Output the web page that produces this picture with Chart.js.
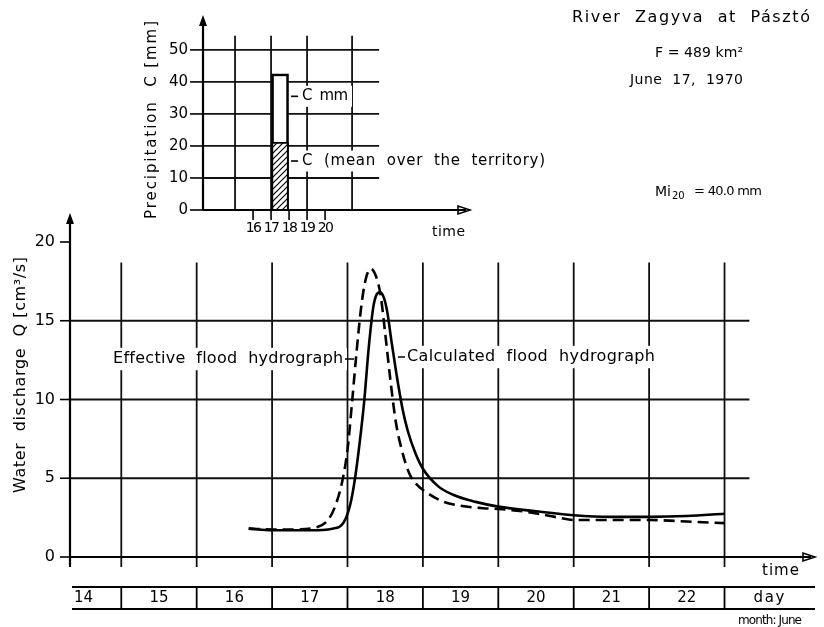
<!DOCTYPE html>
<html>
<head>
<meta charset="utf-8">
<script src="https://cdn.jsdelivr.net/npm/chart.js@4.4.1/dist/chart.umd.min.js"></script>
<style>
  html, body { margin:0; padding:0; background:#fff; }
  #wrap { position:relative; width:824px; height:627px; }
  #wrap canvas { position:absolute; left:0; top:0; }
</style>
</head>
<body>
<div id="wrap">
  <canvas id="main" width="824" height="627"></canvas>
  <canvas id="inset" width="824" height="250"></canvas>
</div>
<script>
// hydrograph: day of June -> discharge Q
const effDays = [16.69, 17.0, 17.3, 17.6, 17.75, 17.85, 17.93, 18.0, 18.06, 18.12, 18.18, 18.24, 18.31, 18.38, 18.44, 18.5, 18.57, 18.64, 18.72, 18.82, 18.92, 19.05, 19.25, 19.5, 19.8, 20.0, 20.4, 20.8, 21.0, 21.5, 22.0, 22.5, 23.0];
const effQ    = [1.8, 1.75, 1.75, 1.9, 2.4, 3.4, 4.8, 6.8, 9.8, 13.0, 15.8, 17.6, 18.3, 17.8, 16.6, 14.2, 11.2, 8.6, 6.8, 5.3, 4.6, 4.1, 3.55, 3.25, 3.1, 3.05, 2.85, 2.5, 2.35, 2.35, 2.35, 2.25, 2.15];
const calcDays = [16.69, 17.0, 17.5, 17.8, 17.95, 18.04, 18.1, 18.16, 18.22, 18.28, 18.34, 18.38, 18.43, 18.48, 18.53, 18.58, 18.65, 18.73, 18.8, 18.9, 19.0, 19.2, 19.4, 19.7, 20.0, 20.5, 21.0, 21.5, 22.0, 22.5, 23.0];
const calcQ    = [1.8, 1.7, 1.7, 1.8, 2.2, 3.4, 5.0, 7.2, 9.8, 13.2, 15.8, 16.6, 16.8, 16.5, 15.5, 13.8, 11.6, 9.4, 8.0, 6.6, 5.6, 4.5, 3.95, 3.5, 3.2, 2.9, 2.65, 2.55, 2.55, 2.6, 2.75];
const qTicks = [0, 5, 10, 15, 20];
const qGrid = [5, 10, 15];
const dayLines = [15, 16, 17, 18, 19, 20, 21, 22, 23];
const dayLabels = ['14', '15', '16', '17', '18', '19', '20', '21', '22'];

// precipitation inset: hour -> mm
const hourTicks = [16, 17, 18, 19, 20];
const hourGrid = [15, 17, 19, 21.5];
const precipTicks = [0, 10, 20, 30, 40, 50];
const precipHours = [17.5];
const precipTotal = [42.5];
const precipMean = [21.2];

const FONT = '"DejaVu Sans", sans-serif';

// draw text stretched to a given width (the original lettering is widely spaced)
function fit(ctx, s, x, y, w, size, align){
  ctx.font = size + 'px ' + FONT;
  ctx.letterSpacing = '0px';
  const m = ctx.measureText(s).width;
  const sp = (w - m) / Math.max(1, s.length - 1);
  ctx.letterSpacing = sp + 'px';
  let left = x;
  if(align === 'center') left = x - w/2;
  if(align === 'right') left = x - w;
  ctx.textAlign = 'left';
  ctx.textBaseline = 'middle';
  ctx.fillText(s, left, y);
  ctx.letterSpacing = '0px';
}
function line(ctx, x1, y1, x2, y2){
  ctx.beginPath(); ctx.moveTo(x1, y1); ctx.lineTo(x2, y2); ctx.stroke();
}
function arrowUp(ctx, x, y){
  ctx.beginPath(); ctx.moveTo(x, y); ctx.lineTo(x-4, y+11); ctx.lineTo(x+4, y+11); ctx.closePath(); ctx.fill();
}
function arrowRight(ctx, x, y){
  ctx.beginPath(); ctx.moveTo(x, y); ctx.lineTo(x-12, y-4); ctx.lineTo(x-12, y+4); ctx.closePath(); ctx.stroke();
}
function whiteText(ctx, s, x, y, w, size){
  ctx.fillStyle = '#fff';
  ctx.fillRect(x - 4, y - size*0.7, w + 8, size*1.4);
  ctx.fillStyle = '#000';
  fit(ctx, s, x, y, w, size, 'left');
}

const mainPlugin = {
  id: 'hydro',
  beforeDatasetsDraw(chart){
    const ctx = chart.ctx, xs = chart.scales.x, ys = chart.scales.y;
    const a = chart.chartArea;
    ctx.save();
    ctx.strokeStyle = '#111'; ctx.lineWidth = 1.8;
    const gx = xs.getPixelForValue(23.33);
    qGrid.forEach(q => { const y = ys.getPixelForValue(q); line(ctx, a.left, y, gx, y); });
    const gt = ys.getPixelForValue(18.7);
    dayLines.forEach(d => { const x = xs.getPixelForValue(d); line(ctx, x, gt, x, a.bottom + 10); });

    // curve labels, they break the grid lines
    const ly = ys.getPixelForValue(12.57);
    whiteText(ctx, 'Effective  flood  hydrograph', 113, ly, 230, 16);
    whiteText(ctx, 'Calculated  flood  hydrograph', 407, ly - 2, 248, 16);
    ctx.lineWidth = 1.6;
    line(ctx, 345, ly, 354, ly);
    line(ctx, 398, ly - 2, 405, ly - 2);
    ctx.restore();
  },
  afterDatasetsDraw(chart){
    const ctx = chart.ctx, xs = chart.scales.x, ys = chart.scales.y;
    const a = chart.chartArea;
    ctx.save();
    ctx.strokeStyle = '#000'; ctx.fillStyle = '#000'; ctx.lineWidth = 2.2;
    // axes
    line(ctx, a.left, a.bottom + 10, a.left, a.top + 4);
    arrowUp(ctx, a.left, a.top);
    line(ctx, a.left, a.bottom, a.right - 4, a.bottom);
    ctx.lineWidth = 1.6;
    arrowRight(ctx, a.right, a.bottom);
    qTicks.forEach(q => {
      const y = ys.getPixelForValue(q);
      line(ctx, a.left - 10, y, a.left, y);
      ctx.font = '16px ' + FONT; ctx.textAlign = 'right'; ctx.textBaseline = 'middle';
      ctx.fillText(String(q), a.left - 15, y);
    });
    // y title
    ctx.save();
    ctx.translate(21, 375); ctx.rotate(-Math.PI/2);
    fit(ctx, 'Water  discharge  Q [cm³/s]', 0, 0, 236, 16, 'center');
    ctx.restore();
    fit(ctx, 'time', 799, 571, 37, 15, 'right');

    // day table
    const tTop = 587, tBot = 609, tMid = 598;
    ctx.lineWidth = 2.2;
    line(ctx, 72, tTop, a.right, tTop);
    line(ctx, 72, tBot, a.right, tBot);
    ctx.lineWidth = 1.8;
    dayLines.forEach(d => { const x = xs.getPixelForValue(d); line(ctx, x, tTop, x, tBot); });
    ctx.font = '15px ' + FONT; ctx.textAlign = 'center'; ctx.textBaseline = 'middle';
    dayLabels.forEach(lbl => {
      ctx.fillText(lbl, xs.getPixelForValue(Number(lbl) + 0.5), tMid);
    });
    fit(ctx, 'day', 769, tMid, 31, 15, 'center');
    fit(ctx, 'month: June', 802, 621, 64, 12, 'right');

    // header text
    fit(ctx, 'River  Zagyva  at  Pásztó', 572, 18, 238, 16, 'left');
    fit(ctx, 'F = 489 km²', 655, 53, 88, 14, 'left');
    fit(ctx, 'June  17,  1970', 630, 80, 113, 14, 'left');
    ctx.font = '14px ' + FONT; ctx.textAlign = 'left'; ctx.textBaseline = 'middle';
    ctx.fillText('Mi', 655, 192);
    const miW = ctx.measureText('Mi').width;
    ctx.font = '10px ' + FONT;
    ctx.fillText('20', 655 + miW + 1, 196);
    fit(ctx, '= 40.0 mm', 694, 192, 68, 13, 'left');
    ctx.restore();
  }
};

new Chart(document.getElementById('main'), {
  type: 'line',
  data: {
    datasets: [
      {
        label: 'Effective flood hydrograph',
        data: effDays.map((d, i) => ({x: d, y: effQ[i]})),
        borderColor: '#000', borderWidth: 2.6, borderDash: [11, 6],
        pointRadius: 0, cubicInterpolationMode: 'monotone', fill: false
      },
      {
        label: 'Calculated flood hydrograph',
        data: calcDays.map((d, i) => ({x: d, y: calcQ[i]})),
        borderColor: '#000', borderWidth: 2.6,
        pointRadius: 0, cubicInterpolationMode: 'monotone', fill: false
      }
    ]
  },
  options: {
    responsive: false, animation: false,
    layout: { padding: { left: 70, top: 213, right: 9, bottom: 70 } },
    scales: {
      x: { type: 'linear', min: 14.32, max: 24.2, display: false },
      y: { type: 'linear', min: 0, max: 21.84, display: false }
    },
    plugins: { legend: { display: false }, tooltip: { enabled: false } }
  },
  plugins: [mainPlugin]
});

// hatch pattern for the mean precipitation
function hatch(){
  const c = document.createElement('canvas');
  c.width = 6; c.height = 6;
  const g = c.getContext('2d');
  g.fillStyle = '#fff'; g.fillRect(0, 0, 6, 6);
  g.strokeStyle = '#000'; g.lineWidth = 1.2;
  g.beginPath();
  g.moveTo(0, 6); g.lineTo(6, 0);
  g.moveTo(-1, 1); g.lineTo(1, -1);
  g.moveTo(5, 7); g.lineTo(7, 5);
  g.stroke();
  return g.createPattern(c, 'repeat');
}

const insetPlugin = {
  id: 'precip',
  beforeDatasetsDraw(chart){
    const ctx = chart.ctx, xs = chart.scales.x, ys = chart.scales.y;
    const a = chart.chartArea;
    ctx.save();
    ctx.strokeStyle = '#111'; ctx.lineWidth = 1.8;
    const gx = xs.getPixelForValue(23);
    precipTicks.slice(1).forEach(v => { const y = ys.getPixelForValue(v); line(ctx, a.left, y, gx, y); });
    const gt = ys.getPixelForValue(54.4);
    hourGrid.forEach(h => { const x = xs.getPixelForValue(h); line(ctx, x, gt, x, a.bottom); });
    // labels break the lines
    whiteText(ctx, 'C  mm', 302, ys.getPixelForValue(35.5), 46, 15);
    whiteText(ctx, 'C  (mean  over  the  territory)', 302, ys.getPixelForValue(15.3), 243, 15);
    ctx.restore();
  },
  afterDatasetsDraw(chart){
    const ctx = chart.ctx, xs = chart.scales.x, ys = chart.scales.y;
    const a = chart.chartArea;
    ctx.save();
    ctx.strokeStyle = '#000'; ctx.fillStyle = '#000'; ctx.lineWidth = 2.2;
    line(ctx, a.left, a.bottom, a.left, a.top + 4);
    arrowUp(ctx, a.left, a.top);
    line(ctx, a.left, a.bottom, a.right - 4, a.bottom);
    ctx.lineWidth = 1.6;
    arrowRight(ctx, a.right, a.bottom);
    const barEdge = xs.getPixelForValue(precipHours[0] + 0.5);
    line(ctx, barEdge + 2, ys.getPixelForValue(35.5), barEdge + 9, ys.getPixelForValue(35.5));
    line(ctx, barEdge + 2, ys.getPixelForValue(15.3), barEdge + 9, ys.getPixelForValue(15.3));
    precipTicks.forEach(v => {
      const y = ys.getPixelForValue(v);
      line(ctx, a.left - 13, y, a.left, y);
      ctx.font = '15px ' + FONT; ctx.textAlign = 'right'; ctx.textBaseline = 'middle';
      ctx.fillText(String(v), a.left - 15, y);
    });
    hourTicks.forEach(h => {
      const x = xs.getPixelForValue(h);
      line(ctx, x, a.bottom, x, a.bottom + 10);
      ctx.font = '14px ' + FONT; ctx.letterSpacing = '-1.5px'; ctx.textAlign = 'center'; ctx.textBaseline = 'middle';
      ctx.fillText(String(h), x, a.bottom + 18);
      ctx.letterSpacing = '0px';
    });
    fit(ctx, 'time', 465, 232, 33, 14, 'right');
    ctx.save();
    ctx.translate(152, 120); ctx.rotate(-Math.PI/2);
    fit(ctx, 'Precipitation  C [mm]', 0, 0, 198, 15, 'center');
    ctx.restore();
    ctx.restore();
  }
};

new Chart(document.getElementById('inset'), {
  type: 'bar',
  data: {
    datasets: [
      {
        label: 'C (mean over the territory)',
        data: precipHours.map((h, i) => ({x: h, y: precipMean[i]})),
        backgroundColor: hatch(), borderColor: '#000', borderWidth: 2,
        barThickness: 17, grouped: false
      },
      {
        label: 'C mm',
        data: precipHours.map((h, i) => ({x: h, y: precipTotal[i]})),
        backgroundColor: '#fff', borderColor: '#000', borderWidth: 2.6,
        barThickness: 17, grouped: false
      }
    ]
  },
  options: {
    responsive: false, animation: false,
    layout: { padding: { left: 203, top: 15, right: 354, bottom: 40 } },
    scales: {
      x: { type: 'linear', min: 13.22, max: 28.05, offset: false, display: false },
      y: { type: 'linear', min: 0, max: 60.9, display: false }
    },
    plugins: { legend: { display: false }, tooltip: { enabled: false } }
  },
  plugins: [insetPlugin]
});
</script>
</body>
</html>
